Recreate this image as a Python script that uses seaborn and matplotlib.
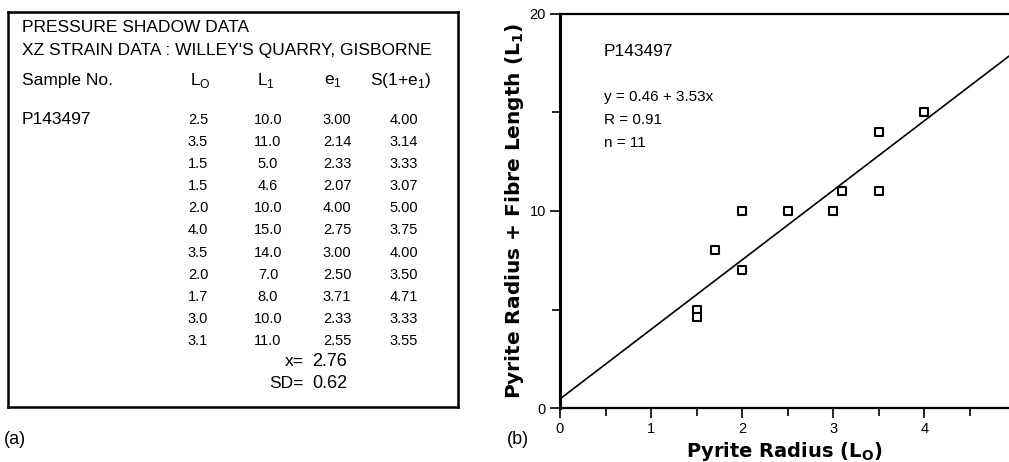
import numpy as np
import pandas as pd
import matplotlib
matplotlib.use("Agg")
import matplotlib.pyplot as plt
import seaborn as sns

# ---------------- data ----------------
sample_no = "P143497"
L0 = [2.5, 3.5, 1.5, 1.5, 2.0, 4.0, 3.5, 2.0, 1.7, 3.0, 3.1]
L1 = [10.0, 11.0, 5.0, 4.6, 10.0, 15.0, 14.0, 7.0, 8.0, 10.0, 11.0]
e1 = [3.00, 2.14, 2.33, 2.07, 4.00, 2.75, 3.00, 2.50, 3.71, 2.33, 2.55]
S1e1 = [4.00, 3.14, 3.33, 3.07, 5.00, 3.75, 4.00, 3.50, 4.71, 3.33, 3.55]
mean_e1 = 2.76
sd_e1 = 0.62
intercept = 0.46
slope = 3.53
r_value = 0.91
n_value = 11
x_ticks_major = [0, 1, 2, 3, 4]
x_ticks_minor = [0.5, 1.5, 2.5, 3.5, 4.5]
y_ticks_major = [0, 10, 20]
y_ticks_minor = [5, 15]

df = pd.DataFrame({"L0": L0, "L1": L1})

sns.set_theme(style="white")
plt.rcParams["font.family"] = ["Liberation Sans", "DejaVu Sans"]
plt.rcParams["mathtext.fontset"] = "custom"
plt.rcParams["mathtext.rm"] = "Liberation Sans"
plt.rcParams["mathtext.bf"] = "DejaVu Sans:bold"
for k in ["text.color", "axes.labelcolor", "xtick.color", "ytick.color",
          "axes.edgecolor"]:
    plt.rcParams[k] = "black"

W, H = 1009, 462
fig = plt.figure(figsize=(W / 100, H / 100), dpi=100)
fig.patch.set_facecolor("white")

def fx(px):
    return px / W

def fy(py):
    return 1 - py / H

# ---------------- (a) table box ----------------
box_l, box_t, box_r, box_b = 8, 12, 458, 407
axt = fig.add_axes([fx(box_l), fy(box_b), fx(box_r - box_l), (box_b - box_t) / H])
axt.set_xlim(box_l, box_r)
axt.set_ylim(box_b, box_t)
axt.set_xticks([])
axt.set_yticks([])
axt.set_facecolor("white")
for s in axt.spines.values():
    s.set_visible(True)
    s.set_color("black")
    s.set_linewidth(1.8)

hdr_fs = 12.5
axt.text(22, 28, "PRESSURE SHADOW DATA", fontsize=hdr_fs, va="center", ha="left")
axt.text(22, 50, "XZ STRAIN DATA : WILLEY'S QUARRY, GISBORNE", fontsize=hdr_fs,
         va="center", ha="left")
axt.text(22, 81, "Sample No.", fontsize=hdr_fs, va="center", ha="left")

col_x = [198, 268, 337, 404]
hdr_x = [200, 266, 333, 401]
headers = [r"L$_\mathregular{O}$", r"L$_\mathregular{1}$", r"e$_\mathregular{1}$",
           r"S(1+e$_\mathregular{1}$)"]
for hx, h in zip(hdr_x, headers):
    axt.text(hx, 81, h, fontsize=hdr_fs, va="center", ha="center")

axt.text(22, 120, sample_no, fontsize=hdr_fs, va="center", ha="left")

row0, drow = 120, 22.1
val_fs = 10.5
for i in range(len(L0)):
    y = row0 + i * drow
    vals = [f"{L0[i]:.1f}", f"{L1[i]:.1f}", f"{e1[i]:.2f}", f"{S1e1[i]:.2f}"]
    for cx, v in zip(col_x, vals):
        axt.text(cx, y, v, fontsize=val_fs, va="center", ha="center")

axt.text(304, 362, "x=", fontsize=hdr_fs, va="center", ha="right")
axt.text(312, 362, f"{mean_e1:.2f}", fontsize=hdr_fs + 0.5, va="center", ha="left")
axt.text(304, 384, "SD=", fontsize=hdr_fs, va="center", ha="right")
axt.text(312, 384, f"{sd_e1:.2f}", fontsize=hdr_fs + 0.5, va="center", ha="left")

fig.text(fx(4), fy(440), "(a)", fontsize=13, ha="left", va="center")
fig.text(fx(507), fy(440), "(b)", fontsize=13, ha="left", va="center")

# ---------------- (b) scatter + regression ----------------
ax_l, ax_t, ax_b = 560, 14, 408
ax = fig.add_axes([fx(ax_l), fy(ax_b), fx(W - ax_l), (ax_b - ax_t) / H])
ax.set_facecolor("white")
ax.set_xlim(0, 4.93)
ax.set_ylim(0, 20)

xs = np.array(ax.get_xlim())
sns.lineplot(x=xs, y=intercept + slope * xs, ax=ax, color="black", linewidth=1.2,
             zorder=2)
sns.scatterplot(data=df, x="L0", y="L1", ax=ax, marker="s", s=30,
                facecolor="white", edgecolor="black", linewidth=1.5, zorder=3)
ax.set_xlim(0, 4.93)
ax.set_ylim(0, 20)

for side in ["left", "bottom", "top"]:
    ax.spines[side].set_visible(True)
    ax.spines[side].set_color("black")
ax.spines["left"].set_linewidth(2.2)
ax.spines["bottom"].set_linewidth(1.6)
ax.spines["top"].set_linewidth(1.6)
ax.spines["right"].set_visible(False)

ax.set_xticks(x_ticks_major)
ax.set_xticks(x_ticks_minor, minor=True)
ax.set_yticks(y_ticks_major)
ax.set_yticks(y_ticks_minor, minor=True)
ax.set_xticklabels([str(v) for v in x_ticks_major])
ax.set_yticklabels([str(v) for v in y_ticks_major])
ax.tick_params(axis="both", which="both", direction="out", color="black",
               width=1.2, labelsize=10.5, labelcolor="black")
ax.tick_params(axis="both", which="major", length=7, pad=3)
ax.tick_params(axis="both", which="minor", length=6)
ax.tick_params(axis="x", which="both", bottom=True, top=False)
ax.tick_params(axis="y", which="both", left=True, right=False)

ax.set_xlabel(r"Pyrite Radius (L$_\mathbf{O}$)", labelpad=3, fontsize=14,
              fontweight="bold", family="DejaVu Sans")
ax.set_ylabel(r"Pyrite Radius + Fibre Length (L$_\mathbf{1}$)", labelpad=3,
              fontsize=14.5, fontweight="bold", family="DejaVu Sans")

ax.text(0.48, 18.1, sample_no, fontsize=12.5, ha="left", va="center")
ax.text(0.48, 15.8, f"y = {intercept:.2f} + {slope:.2f}x", fontsize=11,
        ha="left", va="center")
ax.text(0.48, 14.6, f"R = {r_value:.2f}", fontsize=11, ha="left", va="center")
ax.text(0.48, 13.45, f"n = {n_value}", fontsize=11, ha="left", va="center")

fig.savefig("out.png", dpi=100, facecolor="white")
